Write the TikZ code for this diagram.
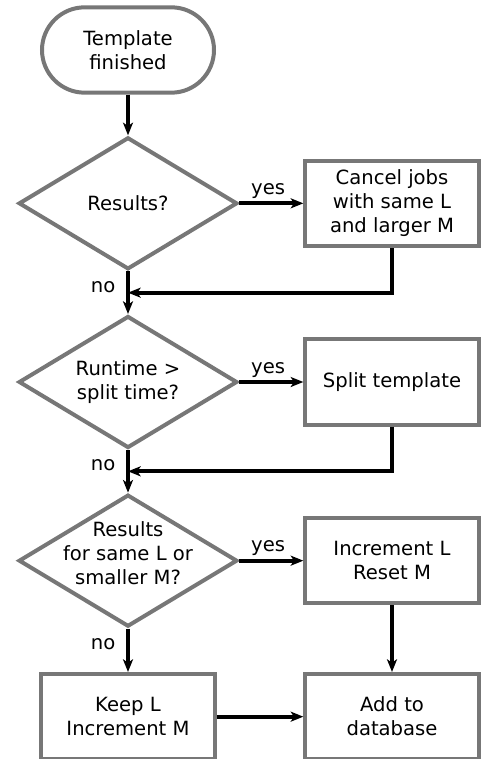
\documentclass[tikz,border=0pt]{standalone}
\usepackage{fontspec}
\setmainfont{DejaVu Sans}
\usepackage{tikz}
\usetikzlibrary{shapes, positioning, arrows.meta, calc}

\definecolor{boxgray}{HTML}{777777}
\newcommand{\dtext}[1]{\smash{\begin{tabular}{@{}c@{}}#1\end{tabular}}}

\begin{document}
\begin{tikzpicture}[x=0.75pt, y=-0.75pt, font=\fontsize{14.7}{18}\selectfont,
  terminal/.style={draw=boxgray, line width=3pt, rectangle, rounded corners=32pt, minimum width=129pt, minimum height=64pt, align=center},
  process/.style={draw=boxgray, line width=3pt, rectangle, minimum width=130pt, minimum height=64pt, align=center},
  decision/.style={draw=boxgray, line width=3pt, diamond, shape aspect=1.67, minimum width=164pt, minimum height=99pt, inner sep=0pt, align=center},
  flow/.style={line width=3pt, -{Stealth[length=9.5pt, width=7.5pt, inset=2.5pt]}},
  answer/.style={inner sep=2pt}]

  \useasboundingbox (0,0) rectangle (481,759);

  \node[terminal] (start) at (128,50) {Template\\finished};

  \node[decision, below=30.5pt of start] (d1) {Results?};
  \node[process, right=48pt of d1] (cancel) {Cancel jobs\\with same L\\and larger M};

  \node[decision, below=32pt of d1] (d2) {Runtime >\\split time?};
  \node[process, right=48pt of d2] (split) {Split template};

  \node[decision, below=32pt of d2] (d3) {\dtext{Results\\for same L or\\smaller M?}};
  \node[process, right=48pt of d3] (incl) {Increment L\\Reset M};

  \node[process, below=32.5pt of d3] (keep) {Keep L\\Increment M};
  \node[process, right=65pt of keep] (add) {Add to\\database};

  \coordinate (m1) at ($(d1.south)!0.5!(d2.north)$);
  \coordinate (m2) at ($(d2.south)!0.5!(d3.north)$);

  \draw[flow] (start) -- (d1);

  \draw[flow] (d1) -- node[answer, above, pos=0.45] {yes} (cancel);
  \draw[flow] (d1) -- node[answer, left=6pt, pos=0.36] {no} (d2);
  \draw[flow] (cancel) |- (m1);

  \draw[flow] (d2) -- node[answer, above, pos=0.45] {yes} (split);
  \draw[flow] (d2) -- node[answer, left=6pt, pos=0.36] {no} (d3);
  \draw[flow] (split) |- (m2);

  \draw[flow] (d3) -- node[answer, above, pos=0.45] {yes} (incl);
  \draw[flow] (d3) -- node[answer, left=6pt, pos=0.36] {no} (keep);
  \draw[flow] (incl) -- (add);
  \draw[flow] (keep) -- (add);

\end{tikzpicture}
\end{document}
